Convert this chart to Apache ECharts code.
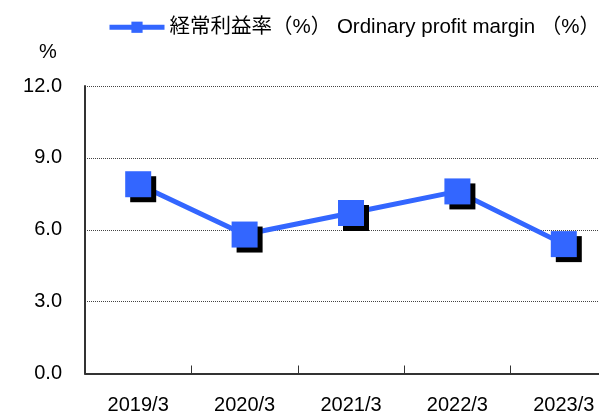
<!DOCTYPE html>
<html>
<head>
<meta charset="utf-8">
<script src="https://cdn.jsdelivr.net/npm/echarts@6/dist/echarts.min.js"></script>
<style>
  html, body { margin: 0; padding: 0; background: #ffffff; }
  #chartBox { width: 599px; height: 414px; }
</style>
</head>
<body>
<div id="chartBox"></div>
<script>
// 決算期
var categories = ["2019/3", "2020/3", "2021/3", "2022/3", "2023/3"];
// 経常利益率 (%)
var profitMargin = [7.9, 5.8, 6.7, 7.6, 5.4];
// y軸目盛
var yTicks = [0, 3, 6, 9, 12];
var seriesName = "経常利益率（%） Ordinary profit margin （%）";

var latinFont = "'Liberation Sans', Arial, 'Noto Sans CJK JP', sans-serif";
var blue = "#3366ff";

var chartBox = echarts.init(document.getElementById("chartBox"));
var options = {
  backgroundColor: "#FFFFFF",
  animation: false,
  title: {
    text: "%",
    left: 34,
    top: 37,
    textStyle: {
      fontFamily: latinFont,
      fontSize: 20,
      fontWeight: "normal",
      color: "#000000",
    },
  },
  legend: {
    left: 102,
    top: 12,
    itemWidth: 55,
    itemHeight: 14,
    textStyle: {
      fontFamily: latinFont,
      fontSize: 20.5,
      color: "#000000",
    },
    lineStyle: { width: 5 },
    data: [seriesName],
  },
  grid: {
    left: 85,
    right: -18,
    top: 86,
    bottom: 40.5,
    containLabel: false,
    outerBoundsMode: "none",
  },
  xAxis: {
    type: "category",
    data: categories,
    boundaryGap: true,
    axisLine: {
      lineStyle: { color: "#333333", width: 2 },
    },
    axisTick: {
      show: true,
      inside: true,
      length: 8,
      lineStyle: { color: "#333333", width: 1 },
    },
    axisLabel: {
      margin: 22,
      fontFamily: latinFont,
      fontSize: 20,
      color: "#000000",
    },
    splitLine: { show: false },
  },
  yAxis: {
    type: "value",
    min: yTicks[0],
    max: yTicks[yTicks.length - 1],
    interval: yTicks[1] - yTicks[0],
    axisLine: {
      show: true,
      lineStyle: { color: "#333333", width: 2 },
    },
    axisTick: { show: false },
    axisLabel: {
      margin: 23,
      fontFamily: latinFont,
      fontSize: 20,
      color: "#000000",
      formatter: function (v) {
        return v.toFixed(1);
      },
    },
    splitLine: {
      lineStyle: { color: "#444444", type: "dotted", width: 1 },
    },
  },
  series: [
    {
      name: seriesName,
      type: "line",
      data: profitMargin,
      symbol: "rect",
      symbolSize: 26,
      lineStyle: { color: blue, width: 5 },
      itemStyle: {
        color: blue,
        shadowColor: "#000000",
        shadowBlur: 0,
        shadowOffsetX: 5,
        shadowOffsetY: 5,
      },
    },
  ],
};
chartBox.setOption(options);
</script>
</body>
</html>
